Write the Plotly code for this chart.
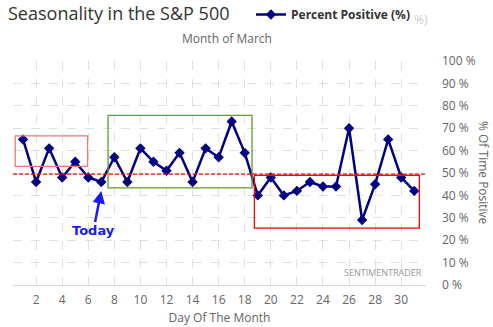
import plotly.graph_objects as go

days = list(range(1, 32))
pct_positive = [65, 46, 61, 48, 55, 48, 46, 57, 46, 61, 55, 51, 59, 46, 61, 57, 73, 59,
                40, 48, 40, 42, 46, 44, 44, 70, 29, 45, 65, 48, 42]
avg_level = 49.5
x_ticks = list(range(2, 31, 2))
y_ticks = list(range(0, 101, 10))
y_tick_labels = [f"{v} %" for v in y_ticks]
# boxes: (x0, x1, y0, y1, colour)
boxes = [
    (0.4, 5.95, 53, 66.6, "#f07878"),
    (7.52, 18.56, 43.4, 75.7, "#5c9e2c"),
    (18.74, 31.39, 25.4, 48.9, "#ff0000"),
]

fig = go.Figure()
fig.add_trace(go.Scatter(
    x=days, y=pct_positive, mode="lines+markers", name="<b>Percent Positive (%)</b>",
    line=dict(color="#000080", width=2.5),
    marker=dict(symbol="diamond", size=8, color="#000080"),
))

shapes = [dict(type="line", xref="paper", x0=0, x1=1, yref="y", y0=avg_level, y1=avg_level,
               line=dict(color="#ff0000", width=1.2, dash="4px,2px"))]
for x0, x1, y0, y1, c in boxes:
    shapes.append(dict(type="rect", x0=x0, x1=x1, y0=y0, y1=y1, line=dict(color=c, width=1.3)))

PT, PB, PL, PW = 61, 285, 13, 413
PH = PB - PT


def py(pix):
    return (PB - pix) / PH


def px(pix):
    return (pix - PL) / PW


font = "Open Sans"
fig.update_layout(
    width=493, height=327,
    margin=dict(l=PL, r=493 - PL - PW, t=PT, b=327 - PB),
    paper_bgcolor="white", plot_bgcolor="white",
    font=dict(family=font, color="#666666", size=12),
    showlegend=True,
    legend=dict(x=px(251), y=1.0, yref="container", xanchor="left", yanchor="top",
                orientation="h", font=dict(size=12, color="#333333"), itemwidth=30,
                bgcolor="rgba(0,0,0,0)"),
    title=dict(text="Seasonality in the S&P 500", x=8 / 493, xanchor="left", y=1 - 14 / 327,
               yanchor="middle", font=dict(size=18, color="#333333", family=font)),
    xaxis=dict(range=[0.23, 31.9], tickvals=x_ticks, showgrid=True, gridcolor="#e0e0e0",
               griddash="dash", gridwidth=1, showline=True, linecolor="#ccd6eb", linewidth=1,
               zeroline=False, ticks="", tickfont=dict(size=12, color="#666666"),
               automargin=False, ticklabelstandoff=4,
               title=dict(text="Day Of The Month", font=dict(size=12, color="#666666"), standoff=6)),
    yaxis=dict(range=[0, 100], tickvals=y_ticks, ticktext=y_tick_labels, side="right",
               showgrid=True, gridcolor="#e0e0e0", griddash="dash", gridwidth=1,
               zeroline=False, showline=False, ticks="", ticklabelstandoff=15,
               automargin=False, tickfont=dict(size=12, color="#666666")),
    shapes=shapes,
    annotations=[
        dict(text="Month of March", xref="paper", yref="paper", x=px(227),
             y=py(39), xanchor="center", yanchor="middle", showarrow=False,
             font=dict(size=12, color="#666666")),
        dict(text="% Of Time Positive", xref="paper", yref="paper", x=px(484),
             y=py(173), xanchor="center", yanchor="middle", textangle=90, showarrow=False,
             font=dict(size=12, color="#666666")),
        dict(text="%)", xref="paper", yref="paper", x=px(421), y=py(19),
             xanchor="center", yanchor="middle",
             showarrow=False, font=dict(size=12, color="#cccccc")),
        dict(text="SENTIMENTRADER", xref="paper", yref="paper", x=px(424),
             y=py(272), xanchor="right", yanchor="middle", showarrow=False,
             font=dict(size=9, color="#999999")),
        dict(text="<b>Today</b>", x=7, y=42, xref="x", yref="y", ax=-8, ay=40,
             showarrow=True, arrowhead=2, arrowsize=1, arrowwidth=2.5, arrowcolor="#1a1aff",
             font=dict(size=13, color="#1a1aff", family="DejaVu Sans")),
    ],
)

fig.write_html("out.html")
